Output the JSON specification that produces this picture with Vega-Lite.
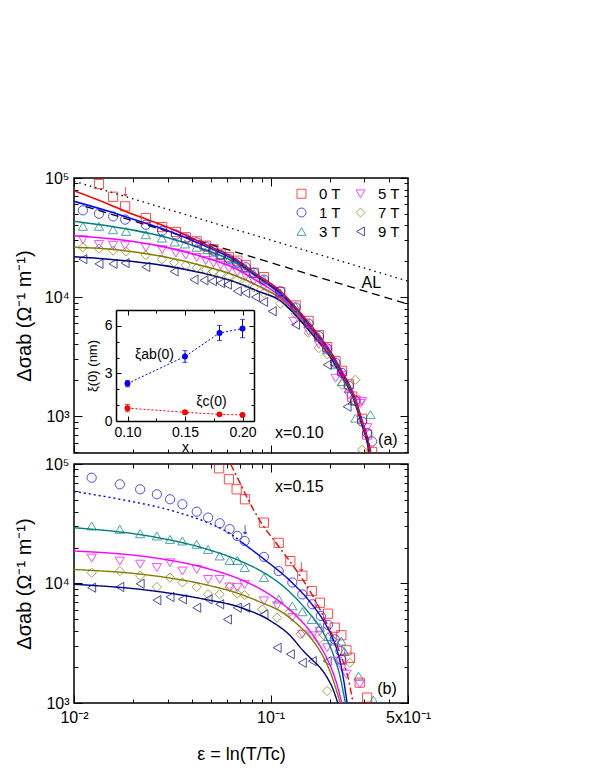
{
  "$schema": "https://vega.github.io/schema/vega-lite/v6.json",
  "padding": {"left": 13, "top": 169, "right": 5, "bottom": 5},
  "config": {
    "font": "Liberation Sans",
    "view": {"stroke": "black", "strokeWidth": 1.5},
    "axis": {"grid": false, "domain": false, "zindex": 1, "tickColor": "black", "labelColor": "black", "titleColor": "black", "labelFont": "Liberation Sans", "titleFont": "Liberation Sans", "titleFontWeight": "normal", "labelFontSize": 16, "titleFontSize": 20, "tickWidth": 1, "domainColor": "black", "domainWidth": 1.5},
    "text": {"font": "Liberation Sans"}
  },
  "datasets": {
    "topAL": [
      {"kind": "dotted", "eps": 0.01, "v": 94000}, {"kind": "dotted", "eps": 0.5, "v": 13600},
      {"kind": "dashed", "eps": 0.0115, "v": 57500}, {"kind": "dashed", "eps": 0.5, "v": 8700}
    ],
    "topFit": [
      {"T": "9 T", "eps": 0.01, "v": 21800}, {"T": "9 T", "eps": 0.015, "v": 20800}, {"T": "9 T", "eps": 0.02, "v": 19900}, {"T": "9 T", "eps": 0.03, "v": 18200}, {"T": "9 T", "eps": 0.045, "v": 15900}, {"T": "9 T", "eps": 0.065, "v": 13500}, {"T": "9 T", "eps": 0.085, "v": 11300}, {"T": "9 T", "eps": 0.1124, "v": 9290}, {"T": "9 T", "eps": 0.1309, "v": 7330}, {"T": "9 T", "eps": 0.16, "v": 5050}, {"T": "9 T", "eps": 0.2017, "v": 3120}, {"T": "9 T", "eps": 0.23, "v": 2160}, {"T": "9 T", "eps": 0.265, "v": 1380}, {"T": "9 T", "eps": 0.29, "v": 867}, {"T": "9 T", "eps": 0.31, "v": 603}, {"T": "9 T", "eps": 0.325, "v": 398},
      {"T": "7 T", "eps": 0.01, "v": 26200}, {"T": "7 T", "eps": 0.015, "v": 25300}, {"T": "7 T", "eps": 0.02, "v": 24000}, {"T": "7 T", "eps": 0.03, "v": 21500}, {"T": "7 T", "eps": 0.045, "v": 18300}, {"T": "7 T", "eps": 0.065, "v": 15300}, {"T": "7 T", "eps": 0.085, "v": 12600}, {"T": "7 T", "eps": 0.1124, "v": 9730}, {"T": "7 T", "eps": 0.1309, "v": 7670}, {"T": "7 T", "eps": 0.16, "v": 5280}, {"T": "7 T", "eps": 0.2017, "v": 3270}, {"T": "7 T", "eps": 0.23, "v": 2270}, {"T": "7 T", "eps": 0.265, "v": 1440}, {"T": "7 T", "eps": 0.29, "v": 918}, {"T": "7 T", "eps": 0.31, "v": 643}, {"T": "7 T", "eps": 0.325, "v": 452},
      {"T": "5 T", "eps": 0.01, "v": 32700}, {"T": "5 T", "eps": 0.015, "v": 31000}, {"T": "5 T", "eps": 0.02, "v": 29300}, {"T": "5 T", "eps": 0.03, "v": 26000}, {"T": "5 T", "eps": 0.045, "v": 21800}, {"T": "5 T", "eps": 0.065, "v": 17600}, {"T": "5 T", "eps": 0.085, "v": 13700}, {"T": "5 T", "eps": 0.1124, "v": 10100}, {"T": "5 T", "eps": 0.1309, "v": 7850}, {"T": "5 T", "eps": 0.16, "v": 5410}, {"T": "5 T", "eps": 0.2017, "v": 3300}, {"T": "5 T", "eps": 0.23, "v": 2290}, {"T": "5 T", "eps": 0.265, "v": 1460}, {"T": "5 T", "eps": 0.29, "v": 925}, {"T": "5 T", "eps": 0.31, "v": 646}, {"T": "5 T", "eps": 0.325, "v": 457},
      {"T": "3 T", "eps": 0.01, "v": 43300}, {"T": "3 T", "eps": 0.015, "v": 39500}, {"T": "3 T", "eps": 0.02, "v": 36500}, {"T": "3 T", "eps": 0.03, "v": 31500}, {"T": "3 T", "eps": 0.045, "v": 25500}, {"T": "3 T", "eps": 0.065, "v": 19800}, {"T": "3 T", "eps": 0.085, "v": 14800}, {"T": "3 T", "eps": 0.1124, "v": 10500}, {"T": "3 T", "eps": 0.1309, "v": 8220}, {"T": "3 T", "eps": 0.16, "v": 5560}, {"T": "3 T", "eps": 0.2017, "v": 3380}, {"T": "3 T", "eps": 0.23, "v": 2330}, {"T": "3 T", "eps": 0.265, "v": 1480}, {"T": "3 T", "eps": 0.29, "v": 933}, {"T": "3 T", "eps": 0.31, "v": 652}, {"T": "3 T", "eps": 0.325, "v": 462},
      {"T": "1 T", "eps": 0.01, "v": 63700}, {"T": "1 T", "eps": 0.015, "v": 52500}, {"T": "1 T", "eps": 0.02, "v": 45000}, {"T": "1 T", "eps": 0.03, "v": 36000}, {"T": "1 T", "eps": 0.045, "v": 27500}, {"T": "1 T", "eps": 0.065, "v": 20600}, {"T": "1 T", "eps": 0.085, "v": 15000}, {"T": "1 T", "eps": 0.1124, "v": 10800}, {"T": "1 T", "eps": 0.1309, "v": 8360}, {"T": "1 T", "eps": 0.16, "v": 5640}, {"T": "1 T", "eps": 0.2017, "v": 3420}, {"T": "1 T", "eps": 0.23, "v": 2340}, {"T": "1 T", "eps": 0.265, "v": 1480}, {"T": "1 T", "eps": 0.29, "v": 938}, {"T": "1 T", "eps": 0.31, "v": 653}, {"T": "1 T", "eps": 0.325, "v": 462},
      {"T": "0 T", "eps": 0.01, "v": 78200}, {"T": "0 T", "eps": 0.015, "v": 60300}, {"T": "0 T", "eps": 0.02, "v": 49500}, {"T": "0 T", "eps": 0.03, "v": 38500}, {"T": "0 T", "eps": 0.045, "v": 28400}, {"T": "0 T", "eps": 0.065, "v": 21300}, {"T": "0 T", "eps": 0.085, "v": 15500}, {"T": "0 T", "eps": 0.1124, "v": 11200}, {"T": "0 T", "eps": 0.1309, "v": 8610}, {"T": "0 T", "eps": 0.16, "v": 5790}, {"T": "0 T", "eps": 0.2017, "v": 3500}, {"T": "0 T", "eps": 0.23, "v": 2400}, {"T": "0 T", "eps": 0.265, "v": 1510}, {"T": "0 T", "eps": 0.29, "v": 951}, {"T": "0 T", "eps": 0.31, "v": 661}, {"T": "0 T", "eps": 0.325, "v": 468}
    ],
    "topPts": [
      {"T": "0 T", "eps": 0.0134, "v": 89000}, {"T": "0 T", "eps": 0.0158, "v": 69600}, {"T": "0 T", "eps": 0.0182, "v": 57800}, {"T": "0 T", "eps": 0.0232, "v": 46100}, {"T": "0 T", "eps": 0.0281, "v": 38700}, {"T": "0 T", "eps": 0.033, "v": 35200}, {"T": "0 T", "eps": 0.037, "v": 31800}, {"T": "0 T", "eps": 0.0421, "v": 29400}, {"T": "0 T", "eps": 0.0468, "v": 27000}, {"T": "0 T", "eps": 0.0512, "v": 25200}, {"T": "0 T", "eps": 0.0557, "v": 23100}, {"T": "0 T", "eps": 0.0614, "v": 21700}, {"T": "0 T", "eps": 0.0677, "v": 20200}, {"T": "0 T", "eps": 0.0747, "v": 18500}, {"T": "0 T", "eps": 0.0822, "v": 16000}, {"T": "0 T", "eps": 0.0925, "v": 14700}, {"T": "0 T", "eps": 0.112, "v": 11000}, {"T": "0 T", "eps": 0.134, "v": 8500}, {"T": "0 T", "eps": 0.156, "v": 6300}, {"T": "0 T", "eps": 0.176, "v": 4800}, {"T": "0 T", "eps": 0.194, "v": 3800}, {"T": "0 T", "eps": 0.214, "v": 2900}, {"T": "0 T", "eps": 0.231, "v": 2400}, {"T": "0 T", "eps": 0.25, "v": 1850}, {"T": "0 T", "eps": 0.26, "v": 1460}, {"T": "0 T", "eps": 0.27, "v": 1350}, {"T": "0 T", "eps": 0.292, "v": 950}, {"T": "0 T", "eps": 0.31, "v": 700}, {"T": "0 T", "eps": 0.328, "v": 500},
      {"T": "1 T", "eps": 0.0111, "v": 53500}, {"T": "1 T", "eps": 0.0134, "v": 50100}, {"T": "1 T", "eps": 0.0158, "v": 47600}, {"T": "1 T", "eps": 0.0182, "v": 44700}, {"T": "1 T", "eps": 0.0232, "v": 40500}, {"T": "1 T", "eps": 0.0281, "v": 36000}, {"T": "1 T", "eps": 0.033, "v": 33500}, {"T": "1 T", "eps": 0.037, "v": 31000}, {"T": "1 T", "eps": 0.0421, "v": 28800}, {"T": "1 T", "eps": 0.0468, "v": 26500}, {"T": "1 T", "eps": 0.0512, "v": 24500}, {"T": "1 T", "eps": 0.0557, "v": 22600}, {"T": "1 T", "eps": 0.0614, "v": 21000}, {"T": "1 T", "eps": 0.0677, "v": 19500}, {"T": "1 T", "eps": 0.0747, "v": 17800}, {"T": "1 T", "eps": 0.0822, "v": 16000}, {"T": "1 T", "eps": 0.0925, "v": 14000}, {"T": "1 T", "eps": 0.112, "v": 11200}, {"T": "1 T", "eps": 0.134, "v": 8200}, {"T": "1 T", "eps": 0.156, "v": 6000}, {"T": "1 T", "eps": 0.176, "v": 4700}, {"T": "1 T", "eps": 0.194, "v": 3700}, {"T": "1 T", "eps": 0.214, "v": 2800}, {"T": "1 T", "eps": 0.231, "v": 2300}, {"T": "1 T", "eps": 0.25, "v": 1800}, {"T": "1 T", "eps": 0.27, "v": 1350}, {"T": "1 T", "eps": 0.292, "v": 900}, {"T": "1 T", "eps": 0.31, "v": 720}, {"T": "1 T", "eps": 0.328, "v": 612},
      {"T": "3 T", "eps": 0.0111, "v": 39300}, {"T": "3 T", "eps": 0.0134, "v": 39300}, {"T": "3 T", "eps": 0.0158, "v": 36800}, {"T": "3 T", "eps": 0.0184, "v": 35600}, {"T": "3 T", "eps": 0.0232, "v": 33400}, {"T": "3 T", "eps": 0.028, "v": 31300}, {"T": "3 T", "eps": 0.0325, "v": 29000}, {"T": "3 T", "eps": 0.0367, "v": 27900}, {"T": "3 T", "eps": 0.042, "v": 26200}, {"T": "3 T", "eps": 0.0477, "v": 25000}, {"T": "3 T", "eps": 0.0512, "v": 23800}, {"T": "3 T", "eps": 0.0557, "v": 22300}, {"T": "3 T", "eps": 0.0614, "v": 20800}, {"T": "3 T", "eps": 0.0677, "v": 19300}, {"T": "3 T", "eps": 0.0747, "v": 17600}, {"T": "3 T", "eps": 0.0822, "v": 15800}, {"T": "3 T", "eps": 0.0925, "v": 14000}, {"T": "3 T", "eps": 0.112, "v": 10800}, {"T": "3 T", "eps": 0.134, "v": 8300}, {"T": "3 T", "eps": 0.156, "v": 6000}, {"T": "3 T", "eps": 0.176, "v": 4600}, {"T": "3 T", "eps": 0.194, "v": 3600}, {"T": "3 T", "eps": 0.214, "v": 2700}, {"T": "3 T", "eps": 0.231, "v": 1950}, {"T": "3 T", "eps": 0.25, "v": 1700}, {"T": "3 T", "eps": 0.262, "v": 1350}, {"T": "3 T", "eps": 0.27, "v": 962}, {"T": "3 T", "eps": 0.322, "v": 1030},
      {"T": "5 T", "eps": 0.0111, "v": 30300}, {"T": "5 T", "eps": 0.0134, "v": 27600}, {"T": "5 T", "eps": 0.0158, "v": 27200}, {"T": "5 T", "eps": 0.0182, "v": 27000}, {"T": "5 T", "eps": 0.0232, "v": 26000}, {"T": "5 T", "eps": 0.0281, "v": 25000}, {"T": "5 T", "eps": 0.033, "v": 23400}, {"T": "5 T", "eps": 0.037, "v": 22500}, {"T": "5 T", "eps": 0.0421, "v": 21500}, {"T": "5 T", "eps": 0.0468, "v": 20300}, {"T": "5 T", "eps": 0.0512, "v": 19300}, {"T": "5 T", "eps": 0.0557, "v": 18500}, {"T": "5 T", "eps": 0.0614, "v": 17300}, {"T": "5 T", "eps": 0.0677, "v": 16200}, {"T": "5 T", "eps": 0.0747, "v": 15000}, {"T": "5 T", "eps": 0.0822, "v": 13600}, {"T": "5 T", "eps": 0.0925, "v": 12300}, {"T": "5 T", "eps": 0.112, "v": 9800}, {"T": "5 T", "eps": 0.131, "v": 6250}, {"T": "5 T", "eps": 0.156, "v": 5150}, {"T": "5 T", "eps": 0.176, "v": 4000}, {"T": "5 T", "eps": 0.194, "v": 3600}, {"T": "5 T", "eps": 0.214, "v": 2080}, {"T": "5 T", "eps": 0.231, "v": 2200}, {"T": "5 T", "eps": 0.25, "v": 1500}, {"T": "5 T", "eps": 0.286, "v": 1280}, {"T": "5 T", "eps": 0.292, "v": 1330}, {"T": "5 T", "eps": 0.31, "v": 800},
      {"T": "7 T", "eps": 0.0111, "v": 26200}, {"T": "7 T", "eps": 0.0134, "v": 25500}, {"T": "7 T", "eps": 0.0158, "v": 24500}, {"T": "7 T", "eps": 0.0184, "v": 24200}, {"T": "7 T", "eps": 0.0232, "v": 22500}, {"T": "7 T", "eps": 0.028, "v": 20800}, {"T": "7 T", "eps": 0.0323, "v": 19500}, {"T": "7 T", "eps": 0.037, "v": 18500}, {"T": "7 T", "eps": 0.0421, "v": 17600}, {"T": "7 T", "eps": 0.0468, "v": 17000}, {"T": "7 T", "eps": 0.0512, "v": 16300}, {"T": "7 T", "eps": 0.0557, "v": 15700}, {"T": "7 T", "eps": 0.0614, "v": 14800}, {"T": "7 T", "eps": 0.0677, "v": 14000}, {"T": "7 T", "eps": 0.0747, "v": 13000}, {"T": "7 T", "eps": 0.0822, "v": 12000}, {"T": "7 T", "eps": 0.0925, "v": 10800}, {"T": "7 T", "eps": 0.112, "v": 8800}, {"T": "7 T", "eps": 0.134, "v": 7200}, {"T": "7 T", "eps": 0.156, "v": 5000}, {"T": "7 T", "eps": 0.176, "v": 3730}, {"T": "7 T", "eps": 0.194, "v": 3300}, {"T": "7 T", "eps": 0.231, "v": 1830}, {"T": "7 T", "eps": 0.27, "v": 2020}, {"T": "7 T", "eps": 0.292, "v": 521},
      {"T": "9 T", "eps": 0.0111, "v": 20800}, {"T": "9 T", "eps": 0.0134, "v": 19000}, {"T": "9 T", "eps": 0.0158, "v": 19000}, {"T": "9 T", "eps": 0.0182, "v": 19300}, {"T": "9 T", "eps": 0.0232, "v": 17900}, {"T": "9 T", "eps": 0.0323, "v": 16400}, {"T": "9 T", "eps": 0.0408, "v": 14000}, {"T": "9 T", "eps": 0.0458, "v": 13800}, {"T": "9 T", "eps": 0.0506, "v": 13600}, {"T": "9 T", "eps": 0.0557, "v": 13100}, {"T": "9 T", "eps": 0.0603, "v": 12700}, {"T": "9 T", "eps": 0.0677, "v": 11200}, {"T": "9 T", "eps": 0.0747, "v": 10800}, {"T": "9 T", "eps": 0.0837, "v": 10000}, {"T": "9 T", "eps": 0.0922, "v": 9100}, {"T": "9 T", "eps": 0.102, "v": 7600}, {"T": "9 T", "eps": 0.134, "v": 5850}, {"T": "9 T", "eps": 0.194, "v": 2700}, {"T": "9 T", "eps": 0.245, "v": 1200}
    ],
    "topText": [
      {"label": "AL", "eps": 0.3256, "v": 13100},
      {"label": "x=0.10", "eps": 0.14, "v": 720},
      {"label": "(a)", "eps": 0.395, "v": 631}
    ],
    "topArrow": [{"eps": 0.0182, "v": 77300}],
    "inset": [
      {"series": "ab", "x": 0.10, "xi": 2.36, "lo": 2.16, "hi": 2.56},
      {"series": "ab", "x": 0.15, "xi": 4.07, "lo": 3.7, "hi": 4.44},
      {"series": "ab", "x": 0.18, "xi": 5.55, "lo": 5.07, "hi": 6.03},
      {"series": "ab", "x": 0.20, "xi": 5.83, "lo": 5.25, "hi": 6.41},
      {"series": "c", "x": 0.10, "xi": 0.81, "lo": 0.58, "hi": 1.04},
      {"series": "c", "x": 0.15, "xi": 0.55, "lo": 0.45, "hi": 0.65},
      {"series": "c", "x": 0.18, "xi": 0.42, "lo": 0.36, "hi": 0.48},
      {"series": "c", "x": 0.20, "xi": 0.38, "lo": 0.33, "hi": 0.43}
    ],
    "insetText": [
      {"label": "ξab(0)", "x": 0.1235, "y": 4.15},
      {"label": "ξc(0)", "x": 0.173, "y": 1.2}
    ],
    "botFit": [
      {"T": "9 T", "seg": "solid", "eps": 0.01, "v": 9850}, {"T": "9 T", "seg": "solid", "eps": 0.0256, "v": 8650}, {"T": "9 T", "seg": "solid", "eps": 0.0458, "v": 7400}, {"T": "9 T", "seg": "solid", "eps": 0.0703, "v": 6300}, {"T": "9 T", "seg": "solid", "eps": 0.1, "v": 4860}, {"T": "9 T", "seg": "solid", "eps": 0.125, "v": 3700}, {"T": "9 T", "seg": "solid", "eps": 0.147, "v": 2720}, {"T": "9 T", "seg": "solid", "eps": 0.165, "v": 2250}, {"T": "9 T", "seg": "solid", "eps": 0.18, "v": 1950}, {"T": "9 T", "seg": "solid", "eps": 0.194, "v": 1630}, {"T": "9 T", "seg": "solid", "eps": 0.208, "v": 1300}, {"T": "9 T", "seg": "solid", "eps": 0.218, "v": 1040}, {"T": "9 T", "seg": "solid", "eps": 0.224, "v": 900},
      {"T": "7 T", "seg": "solid", "eps": 0.01, "v": 13100}, {"T": "7 T", "seg": "solid", "eps": 0.0256, "v": 11600}, {"T": "7 T", "seg": "solid", "eps": 0.0458, "v": 9850}, {"T": "7 T", "seg": "solid", "eps": 0.0703, "v": 8130}, {"T": "7 T", "seg": "solid", "eps": 0.0857, "v": 7150}, {"T": "7 T", "seg": "solid", "eps": 0.117, "v": 5600}, {"T": "7 T", "seg": "solid", "eps": 0.14, "v": 4400}, {"T": "7 T", "seg": "solid", "eps": 0.16, "v": 3500}, {"T": "7 T", "seg": "solid", "eps": 0.18, "v": 2650}, {"T": "7 T", "seg": "solid", "eps": 0.195, "v": 2050}, {"T": "7 T", "seg": "solid", "eps": 0.207, "v": 1600}, {"T": "7 T", "seg": "solid", "eps": 0.217, "v": 1250}, {"T": "7 T", "seg": "solid", "eps": 0.228, "v": 950},
      {"T": "5 T", "seg": "solid", "eps": 0.01, "v": 18700}, {"T": "5 T", "seg": "solid", "eps": 0.0256, "v": 16400}, {"T": "5 T", "seg": "solid", "eps": 0.0458, "v": 13600}, {"T": "5 T", "seg": "solid", "eps": 0.0703, "v": 10800}, {"T": "5 T", "seg": "solid", "eps": 0.0925, "v": 8650}, {"T": "5 T", "seg": "solid", "eps": 0.11, "v": 7150}, {"T": "5 T", "seg": "solid", "eps": 0.136, "v": 5300}, {"T": "5 T", "seg": "solid", "eps": 0.155, "v": 4200}, {"T": "5 T", "seg": "solid", "eps": 0.172, "v": 3300}, {"T": "5 T", "seg": "solid", "eps": 0.19, "v": 2500}, {"T": "5 T", "seg": "solid", "eps": 0.205, "v": 1900}, {"T": "5 T", "seg": "solid", "eps": 0.217, "v": 1450}, {"T": "5 T", "seg": "solid", "eps": 0.227, "v": 1100}, {"T": "5 T", "seg": "solid", "eps": 0.235, "v": 900},
      {"T": "3 T", "seg": "solid", "eps": 0.01, "v": 29300}, {"T": "3 T", "seg": "solid", "eps": 0.0256, "v": 24500}, {"T": "3 T", "seg": "solid", "eps": 0.0458, "v": 19700}, {"T": "3 T", "seg": "solid", "eps": 0.0703, "v": 15400}, {"T": "3 T", "seg": "solid", "eps": 0.0925, "v": 12300}, {"T": "3 T", "seg": "solid", "eps": 0.115, "v": 9600}, {"T": "3 T", "seg": "solid", "eps": 0.136, "v": 7400}, {"T": "3 T", "seg": "solid", "eps": 0.155, "v": 5800}, {"T": "3 T", "seg": "solid", "eps": 0.172, "v": 4700}, {"T": "3 T", "seg": "solid", "eps": 0.19, "v": 3600}, {"T": "3 T", "seg": "solid", "eps": 0.202, "v": 2900}, {"T": "3 T", "seg": "solid", "eps": 0.214, "v": 2250}, {"T": "3 T", "seg": "solid", "eps": 0.226, "v": 1650}, {"T": "3 T", "seg": "solid", "eps": 0.235, "v": 1200}, {"T": "3 T", "seg": "solid", "eps": 0.242, "v": 950},
      {"T": "1 T", "seg": "dotted", "eps": 0.01, "v": 59000}, {"T": "1 T", "seg": "dotted", "eps": 0.0173, "v": 50500}, {"T": "1 T", "seg": "dotted", "eps": 0.031, "v": 41000}, {"T": "1 T", "seg": "dotted", "eps": 0.0496, "v": 31500}, {"T": "1 T", "seg": "dotted", "eps": 0.0626, "v": 26000}, {"T": "1 T", "seg": "dotted", "eps": 0.0703, "v": 22500},
      {"T": "1 T", "seg": "solid", "eps": 0.0703, "v": 22500}, {"T": "1 T", "seg": "solid", "eps": 0.0925, "v": 16000}, {"T": "1 T", "seg": "solid", "eps": 0.126, "v": 10500}, {"T": "1 T", "seg": "solid", "eps": 0.16, "v": 6900}, {"T": "1 T", "seg": "solid", "eps": 0.187, "v": 4800}, {"T": "1 T", "seg": "solid", "eps": 0.205, "v": 3600}, {"T": "1 T", "seg": "solid", "eps": 0.218, "v": 2750}, {"T": "1 T", "seg": "solid", "eps": 0.229, "v": 2000}, {"T": "1 T", "seg": "solid", "eps": 0.2355, "v": 1550}, {"T": "1 T", "seg": "solid", "eps": 0.241, "v": 1200}, {"T": "1 T", "seg": "solid", "eps": 0.245, "v": 1000}, {"T": "1 T", "seg": "solid", "eps": 0.249, "v": 850},
      {"T": "0 T", "seg": "dashdot", "eps": 0.058, "v": 129000}, {"T": "0 T", "seg": "dashdot", "eps": 0.0626, "v": 100000}, {"T": "0 T", "seg": "dashdot", "eps": 0.07, "v": 69000}, {"T": "0 T", "seg": "dashdot", "eps": 0.0761, "v": 52000}, {"T": "0 T", "seg": "dashdot", "eps": 0.0888, "v": 33000}, {"T": "0 T", "seg": "dashdot", "eps": 0.11, "v": 20400}, {"T": "0 T", "seg": "dashdot", "eps": 0.136, "v": 12700}, {"T": "0 T", "seg": "dashdot", "eps": 0.166, "v": 7600}, {"T": "0 T", "seg": "dashdot", "eps": 0.194, "v": 4560}, {"T": "0 T", "seg": "dashdot", "eps": 0.2265, "v": 2560}, {"T": "0 T", "seg": "dashdot", "eps": 0.25, "v": 1530}, {"T": "0 T", "seg": "dashdot", "eps": 0.26, "v": 1100}, {"T": "0 T", "seg": "dashdot", "eps": 0.265, "v": 900}
    ],
    "botPts": [
      {"T": "0 T", "eps": 0.0547, "v": 92000}, {"T": "0 T", "eps": 0.0614, "v": 74500}, {"T": "0 T", "eps": 0.0672, "v": 61400}, {"T": "0 T", "eps": 0.0741, "v": 50700}, {"T": "0 T", "eps": 0.0925, "v": 32300}, {"T": "0 T", "eps": 0.11, "v": 21900}, {"T": "0 T", "eps": 0.126, "v": 15400}, {"T": "0 T", "eps": 0.145, "v": 11600}, {"T": "0 T", "eps": 0.162, "v": 8650}, {"T": "0 T", "eps": 0.178, "v": 6900}, {"T": "0 T", "eps": 0.196, "v": 5590}, {"T": "0 T", "eps": 0.212, "v": 4270}, {"T": "0 T", "eps": 0.229, "v": 3690}, {"T": "0 T", "eps": 0.243, "v": 2760}, {"T": "0 T", "eps": 0.253, "v": 2390}, {"T": "0 T", "eps": 0.284, "v": 1480}, {"T": "0 T", "eps": 0.31, "v": 1110},
      {"T": "1 T", "eps": 0.0123, "v": 76800}, {"T": "1 T", "eps": 0.0171, "v": 67600}, {"T": "1 T", "eps": 0.0217, "v": 61400}, {"T": "1 T", "eps": 0.0264, "v": 55800}, {"T": "1 T", "eps": 0.0308, "v": 50700}, {"T": "1 T", "eps": 0.0356, "v": 46000}, {"T": "1 T", "eps": 0.0421, "v": 39900}, {"T": "1 T", "eps": 0.0481, "v": 35600}, {"T": "1 T", "eps": 0.0551, "v": 31900}, {"T": "1 T", "eps": 0.0619, "v": 28500}, {"T": "1 T", "eps": 0.0677, "v": 25000}, {"T": "1 T", "eps": 0.0738, "v": 22700}, {"T": "1 T", "eps": 0.0925, "v": 16700}, {"T": "1 T", "eps": 0.11, "v": 12700}, {"T": "1 T", "eps": 0.129, "v": 10200}, {"T": "1 T", "eps": 0.145, "v": 8100}, {"T": "1 T", "eps": 0.163, "v": 6700}, {"T": "1 T", "eps": 0.18, "v": 5350}, {"T": "1 T", "eps": 0.196, "v": 4500}, {"T": "1 T", "eps": 0.212, "v": 3410}, {"T": "1 T", "eps": 0.2265, "v": 2720}, {"T": "1 T", "eps": 0.229, "v": 2300},
      {"T": "3 T", "eps": 0.0123, "v": 30300}, {"T": "3 T", "eps": 0.0171, "v": 28400}, {"T": "3 T", "eps": 0.0217, "v": 26100}, {"T": "3 T", "eps": 0.0264, "v": 25000}, {"T": "3 T", "eps": 0.0308, "v": 23400}, {"T": "3 T", "eps": 0.0356, "v": 22700}, {"T": "3 T", "eps": 0.0421, "v": 21300}, {"T": "3 T", "eps": 0.0481, "v": 19300}, {"T": "3 T", "eps": 0.0551, "v": 17000}, {"T": "3 T", "eps": 0.0619, "v": 15600}, {"T": "3 T", "eps": 0.0677, "v": 15600}, {"T": "3 T", "eps": 0.0738, "v": 13600}, {"T": "3 T", "eps": 0.0925, "v": 11200}, {"T": "3 T", "eps": 0.11, "v": 7400}, {"T": "3 T", "eps": 0.129, "v": 6500}, {"T": "3 T", "eps": 0.145, "v": 5800}, {"T": "3 T", "eps": 0.162, "v": 5000}, {"T": "3 T", "eps": 0.178, "v": 4300}, {"T": "3 T", "eps": 0.196, "v": 3600}, {"T": "3 T", "eps": 0.212, "v": 3300}, {"T": "3 T", "eps": 0.229, "v": 3300}, {"T": "3 T", "eps": 0.237, "v": 2700}, {"T": "3 T", "eps": 0.28, "v": 1680}, {"T": "3 T", "eps": 0.333, "v": 1060},
      {"T": "5 T", "eps": 0.0123, "v": 16300}, {"T": "5 T", "eps": 0.0171, "v": 15400}, {"T": "5 T", "eps": 0.0217, "v": 14500}, {"T": "5 T", "eps": 0.0264, "v": 13600}, {"T": "5 T", "eps": 0.0308, "v": 14900}, {"T": "5 T", "eps": 0.0356, "v": 12700}, {"T": "5 T", "eps": 0.0421, "v": 13100}, {"T": "5 T", "eps": 0.0481, "v": 10800}, {"T": "5 T", "eps": 0.0551, "v": 10800}, {"T": "5 T", "eps": 0.0619, "v": 9350}, {"T": "5 T", "eps": 0.0677, "v": 9230}, {"T": "5 T", "eps": 0.0738, "v": 9800}, {"T": "5 T", "eps": 0.0925, "v": 7150}, {"T": "5 T", "eps": 0.108, "v": 6500}, {"T": "5 T", "eps": 0.129, "v": 5180}, {"T": "5 T", "eps": 0.145, "v": 3760}, {"T": "5 T", "eps": 0.163, "v": 3640}, {"T": "5 T", "eps": 0.178, "v": 3980}, {"T": "5 T", "eps": 0.194, "v": 2900}, {"T": "5 T", "eps": 0.218, "v": 2240}, {"T": "5 T", "eps": 0.231, "v": 1980}, {"T": "5 T", "eps": 0.243, "v": 1740}, {"T": "5 T", "eps": 0.284, "v": 1440},
      {"T": "7 T", "eps": 0.0123, "v": 12300}, {"T": "7 T", "eps": 0.0171, "v": 12700}, {"T": "7 T", "eps": 0.0217, "v": 11600}, {"T": "7 T", "eps": 0.0264, "v": 9350}, {"T": "7 T", "eps": 0.0308, "v": 11200}, {"T": "7 T", "eps": 0.0356, "v": 10200}, {"T": "7 T", "eps": 0.0421, "v": 9350}, {"T": "7 T", "eps": 0.0481, "v": 8130}, {"T": "7 T", "eps": 0.0551, "v": 8130}, {"T": "7 T", "eps": 0.0619, "v": 9350}, {"T": "7 T", "eps": 0.0677, "v": 8220}, {"T": "7 T", "eps": 0.0738, "v": 8000}, {"T": "7 T", "eps": 0.0907, "v": 6080}, {"T": "7 T", "eps": 0.108, "v": 5180}, {"T": "7 T", "eps": 0.124, "v": 5700}, {"T": "7 T", "eps": 0.142, "v": 3760}, {"T": "7 T", "eps": 0.176, "v": 3410}, {"T": "7 T", "eps": 0.194, "v": 1260}, {"T": "7 T", "eps": 0.253, "v": 2170},
      {"T": "9 T", "eps": 0.0123, "v": 9230}, {"T": "9 T", "eps": 0.0171, "v": 9350}, {"T": "9 T", "eps": 0.0217, "v": 9950}, {"T": "9 T", "eps": 0.0264, "v": 7250}, {"T": "9 T", "eps": 0.0308, "v": 7710}, {"T": "9 T", "eps": 0.0356, "v": 7380}, {"T": "9 T", "eps": 0.0421, "v": 6270}, {"T": "9 T", "eps": 0.0481, "v": 7380}, {"T": "9 T", "eps": 0.0551, "v": 6700}, {"T": "9 T", "eps": 0.0603, "v": 5000}, {"T": "9 T", "eps": 0.0677, "v": 6270}, {"T": "9 T", "eps": 0.0747, "v": 6270}, {"T": "9 T", "eps": 0.0925, "v": 5520}, {"T": "9 T", "eps": 0.108, "v": 2900}, {"T": "9 T", "eps": 0.126, "v": 2560}, {"T": "9 T", "eps": 0.145, "v": 2170}, {"T": "9 T", "eps": 0.163, "v": 2240}, {"T": "9 T", "eps": 0.194, "v": 2240}
    ],
    "botText": [
      {"label": "x=0.15", "eps": 0.14, "v": 64300},
      {"label": "(b)", "eps": 0.391, "v": 1300}
    ],
    "botArrowBlue": [{"eps": 0.0738, "v": 28400}],
    "botArrowRed": [{"eps": 0.143, "v": 14000}]
  },
  "spacing": 0,
  "resolve": {"scale": {"x": "independent", "y": "independent", "color": "independent", "shape": "independent", "strokeDash": "independent"}},
  "vconcat": [
    {
      "width": 334, "height": 275,
      "resolve": {"scale": {"x": "independent", "y": "independent", "color": "independent", "shape": "independent"}, "axis": {"x": "independent", "y": "independent"}},
      "layer": [
        {
          "resolve": {"scale": {"color": "independent", "shape": "independent"}, "axis": {"x": "independent", "y": "independent"}},
          "layer": [
            {
              "data": {"name": "topAL"},
              "mark": {"type": "line", "color": "black", "strokeWidth": 1.3, "clip": true},
              "encoding": {
                "x": {"field": "eps", "type": "quantitative", "scale": {"type": "log", "domain": [0.01, 0.5], "nice": false}, "axis": {"orient": "bottom", "values": [0.02, 0.03, 0.04, 0.05, 0.06, 0.07, 0.08, 0.09, 0.2, 0.3, 0.4], "labels": false, "title": null, "tickSize": -4}},
                "y": {"field": "v", "type": "quantitative", "scale": {"type": "log", "domain": [490, 100000], "nice": false}, "axis": {"orient": "left", "values": [500, 600, 700, 800, 900, 2000, 3000, 4000, 5000, 6000, 7000, 8000, 9000, 20000, 30000, 40000, 50000, 60000, 70000, 80000, 90000], "labels": false, "title": null, "tickSize": -4}},
                "strokeDash": {"field": "kind", "type": "nominal", "scale": {"domain": ["dotted", "dashed"], "range": [[1.5, 4], [8, 5]]}, "legend": null}
              }
            },
            {
              "data": {"name": "topFit"},
              "mark": {"type": "line", "strokeWidth": 1.6, "clip": true, "interpolate": "monotone"},
              "encoding": {
                "x": {"field": "eps", "type": "quantitative", "axis": {"orient": "top", "values": [0.01, 0.1], "labels": false, "title": null, "tickSize": -8}},
                "y": {"field": "v", "type": "quantitative", "axis": {"orient": "right", "values": [1000, 10000, 100000], "labels": false, "title": null, "tickSize": -8}},
                "color": {"field": "T", "type": "nominal", "scale": {"domain": ["0 T", "1 T", "3 T", "5 T", "7 T", "9 T"], "range": ["#ff0000", "#0000ff", "#008080", "#ff00ff", "#808000", "#000080"]}, "legend": null}
              }
            },
            {
              "data": {"name": "topPts"},
              "mark": {"type": "point", "filled": false, "strokeWidth": 1, "size": 85, "clip": true},
              "encoding": {
                "x": {"field": "eps", "type": "quantitative", "axis": {"orient": "bottom", "values": [0.01, 0.1], "labels": false, "title": null, "tickSize": -8}},
                "y": {"field": "v", "type": "quantitative", "axis": {"orient": "left", "values": [1000, 10000, 100000], "labelExpr": "datum.value > 50000 ? '10⁵' : datum.value > 5000 ? '10⁴' : '10³'", "labelPadding": 13, "title": "Δσab (Ω⁻¹ m⁻¹)", "titlePadding": 10, "tickSize": -8}},
                "color": {"field": "T", "type": "nominal", "scale": {"domain": ["0 T", "1 T", "3 T", "5 T", "7 T", "9 T"], "range": ["#ff0000", "#0000ff", "#008080", "#ff00ff", "#808000", "#000080"]}, "legend": {"title": null, "orient": "top-right", "columns": 2, "labelFontSize": 15, "labelFont": "Liberation Sans", "labelColor": "black", "symbolSize": 80, "symbolStrokeWidth": 1, "labelOffset": 10, "columnPadding": 12, "rowPadding": 3, "offset": 8, "padding": 0}},
                "shape": {"field": "T", "type": "nominal", "scale": {"domain": ["0 T", "1 T", "3 T", "5 T", "7 T", "9 T"], "range": ["square", "circle", "triangle-up", "triangle-down", "diamond", "triangle-left"]}, "legend": {"title": null, "orient": "top-right", "columns": 2, "labelFontSize": 15, "labelFont": "Liberation Sans", "labelColor": "black", "symbolSize": 80, "symbolStrokeWidth": 1, "labelOffset": 10, "columnPadding": 12, "rowPadding": 3, "offset": 8, "padding": 0}}
              }
            },
            {
              "data": {"name": "topText"},
              "mark": {"type": "text", "fontSize": 16, "color": "black"},
              "encoding": {
                "x": {"field": "eps", "type": "quantitative", "axis": {"orient": "top", "values": [0.02, 0.03, 0.04, 0.05, 0.06, 0.07, 0.08, 0.09, 0.2, 0.3, 0.4], "labels": false, "title": null, "tickSize": -4}},
                "y": {"field": "v", "type": "quantitative", "axis": {"orient": "right", "values": [500, 600, 700, 800, 900, 2000, 3000, 4000, 5000, 6000, 7000, 8000, 9000, 20000, 30000, 40000, 50000, 60000, 70000, 80000, 90000], "labels": false, "title": null, "tickSize": -4}},
                "text": {"field": "label"}
              }
            },
            {
              "data": {"name": "topArrow"},
              "mark": {"type": "text", "fontSize": 16, "text": "↓", "color": "#ff0000"},
              "encoding": {
                "x": {"field": "eps", "type": "quantitative", "axis": null},
                "y": {"field": "v", "type": "quantitative", "axis": null}
              }
            }
          ]
        },
        {
          "resolve": {"axis": {"x": "independent", "y": "independent"}},
          "layer": [
            {
              "data": {"name": "inset"},
              "mark": {"type": "line", "strokeDash": [2, 2], "strokeWidth": 1},
              "encoding": {
                "x": {"field": "x", "type": "quantitative", "scale": {"domain": [0.09, 0.21], "range": [42, 180], "nice": false, "zero": false}, "axis": {"orient": "bottom", "offset": -32, "domain": true, "values": [0.1, 0.15, 0.2], "format": ".2f", "labelFontSize": 14, "labelFlush": false, "labelPadding": 9, "tickSize": -5, "title": "x", "titleFontSize": 14, "titlePadding": 1}},
                "y": {"field": "xi", "type": "quantitative", "scale": {"domain": [0, 7], "range": [243, 132], "nice": false, "zero": false}, "axis": {"orient": "left", "offset": -42, "domain": true, "values": [0, 3, 6], "labelFontSize": 14, "labelPadding": 9, "tickSize": -5, "title": "ξ(0) (nm)", "titleFontSize": 13, "titlePadding": 5}},
                "color": {"field": "series", "type": "nominal", "scale": {"domain": ["ab", "c"], "range": ["#0000ff", "#ff0000"]}, "legend": null}
              }
            },
            {
              "data": {"name": "inset"},
              "mark": {"type": "errorbar", "ticks": true},
              "encoding": {
                "x": {"field": "x", "type": "quantitative", "axis": {"orient": "top", "offset": -132, "domain": true, "values": [0.1, 0.15, 0.2], "labels": false, "tickSize": -5, "title": null}},
                "y": {"field": "lo", "type": "quantitative", "axis": {"orient": "right", "offset": -154, "domain": true, "values": [0, 3, 6], "labels": false, "tickSize": -5, "title": null}},
                "y2": {"field": "hi"},
                "color": {"field": "series", "type": "nominal", "legend": null}
              }
            },
            {
              "data": {"name": "inset"},
              "mark": {"type": "point", "filled": true, "shape": "circle", "size": 35, "opacity": 1},
              "encoding": {
                "x": {"field": "x", "type": "quantitative", "axis": {"orient": "bottom", "offset": -32, "values": [0.125, 0.175], "labels": false, "tickSize": -3, "title": null}},
                "y": {"field": "xi", "type": "quantitative", "axis": {"orient": "left", "offset": -42, "values": [1, 2, 4, 5], "labels": false, "tickSize": -3, "title": null}},
                "color": {"field": "series", "type": "nominal", "legend": null}
              }
            },
            {
              "data": {"name": "insetText"},
              "mark": {"type": "text", "fontSize": 14, "color": "black"},
              "encoding": {
                "x": {"field": "x", "type": "quantitative", "axis": {"orient": "top", "offset": -132, "values": [0.125, 0.175], "labels": false, "tickSize": -3, "title": null}},
                "y": {"field": "y", "type": "quantitative", "axis": {"orient": "right", "offset": -154, "values": [1, 2, 4, 5], "labels": false, "tickSize": -3, "title": null}},
                "text": {"field": "label"}
              }
            }
          ]
        }
      ]
    },
    {
      "width": 334, "height": 239,
      "resolve": {"axis": {"x": "independent", "y": "independent"}},
      "layer": [
        {
          "data": {"name": "botPts"},
          "mark": {"type": "point", "filled": false, "strokeWidth": 1, "size": 85, "clip": true},
          "encoding": {
            "x": {"field": "eps", "type": "quantitative", "scale": {"type": "log", "domain": [0.01, 0.5], "nice": false}, "axis": {"orient": "bottom", "values": [0.01, 0.1, 0.5], "labelExpr": "datum.value < 0.05 ? '10⁻²' : datum.value < 0.2 ? '10⁻¹' : '5x10⁻¹'", "labelFlush": false, "labelOverlap": false, "labelPadding": 14, "title": "ε = ln(T/Tc)", "titleFontSize": 18, "titlePadding": 20, "tickSize": -8}},
            "y": {"field": "v", "type": "quantitative", "scale": {"type": "log", "domain": [1000, 100000], "nice": false}, "axis": {"orient": "left", "values": [1000, 10000, 100000], "labelExpr": "datum.value > 50000 ? '10⁵' : datum.value > 5000 ? '10⁴' : '10³'", "labelPadding": 13, "title": "Δσab (Ω⁻¹ m⁻¹)", "titlePadding": 10, "tickSize": -8}},
            "color": {"field": "T", "type": "nominal", "scale": {"domain": ["0 T", "1 T", "3 T", "5 T", "7 T", "9 T"], "range": ["#ff0000", "#0000ff", "#008080", "#ff00ff", "#808000", "#000080"]}, "legend": null},
            "shape": {"field": "T", "type": "nominal", "scale": {"domain": ["0 T", "1 T", "3 T", "5 T", "7 T", "9 T"], "range": ["square", "circle", "triangle-up", "triangle-down", "diamond", "triangle-left"]}, "legend": null}
          }
        },
        {
          "data": {"name": "botFit"},
          "mark": {"type": "line", "strokeWidth": 1.4, "clip": true, "interpolate": "monotone"},
          "encoding": {
            "x": {"field": "eps", "type": "quantitative", "axis": {"orient": "top", "values": [0.01, 0.1], "labels": false, "title": null, "tickSize": -8}},
            "y": {"field": "v", "type": "quantitative", "axis": {"orient": "right", "values": [1000, 10000, 100000], "labels": false, "title": null, "tickSize": -8}},
            "color": {"field": "T", "type": "nominal", "legend": null},
            "strokeDash": {"field": "seg", "type": "nominal", "scale": {"domain": ["solid", "dotted", "dashdot"], "range": [[1, 0], [2, 3], [7, 3, 2, 3]]}, "legend": null}
          }
        },
        {
          "data": {"name": "botText"},
          "mark": {"type": "text", "fontSize": 16, "color": "black"},
          "encoding": {
            "x": {"field": "eps", "type": "quantitative", "axis": {"orient": "top", "values": [0.02, 0.03, 0.04, 0.05, 0.06, 0.07, 0.08, 0.09, 0.2, 0.3, 0.4], "labels": false, "title": null, "tickSize": -4}},
            "y": {"field": "v", "type": "quantitative", "axis": {"orient": "right", "values": [2000, 3000, 4000, 5000, 6000, 7000, 8000, 9000, 20000, 30000, 40000, 50000, 60000, 70000, 80000, 90000], "labels": false, "title": null, "tickSize": -4}},
            "text": {"field": "label"}
          }
        },
        {
          "data": {"name": "botArrowBlue"},
          "mark": {"type": "text", "fontSize": 16, "text": "↓", "color": "#0000ff"},
          "encoding": {
            "x": {"field": "eps", "type": "quantitative", "axis": {"orient": "bottom", "values": [0.02, 0.03, 0.04, 0.05, 0.06, 0.07, 0.08, 0.09, 0.2, 0.3, 0.4], "labels": false, "title": null, "tickSize": -4}},
            "y": {"field": "v", "type": "quantitative", "axis": {"orient": "left", "values": [2000, 3000, 4000, 5000, 6000, 7000, 8000, 9000, 20000, 30000, 40000, 50000, 60000, 70000, 80000, 90000], "labels": false, "title": null, "tickSize": -4}}
          }
        },
        {
          "data": {"name": "botArrowRed"},
          "mark": {"type": "text", "fontSize": 16, "text": "↓", "color": "#ff0000"},
          "encoding": {
            "x": {"field": "eps", "type": "quantitative", "axis": null},
            "y": {"field": "v", "type": "quantitative", "axis": null}
          }
        }
      ]
    }
  ]
}
